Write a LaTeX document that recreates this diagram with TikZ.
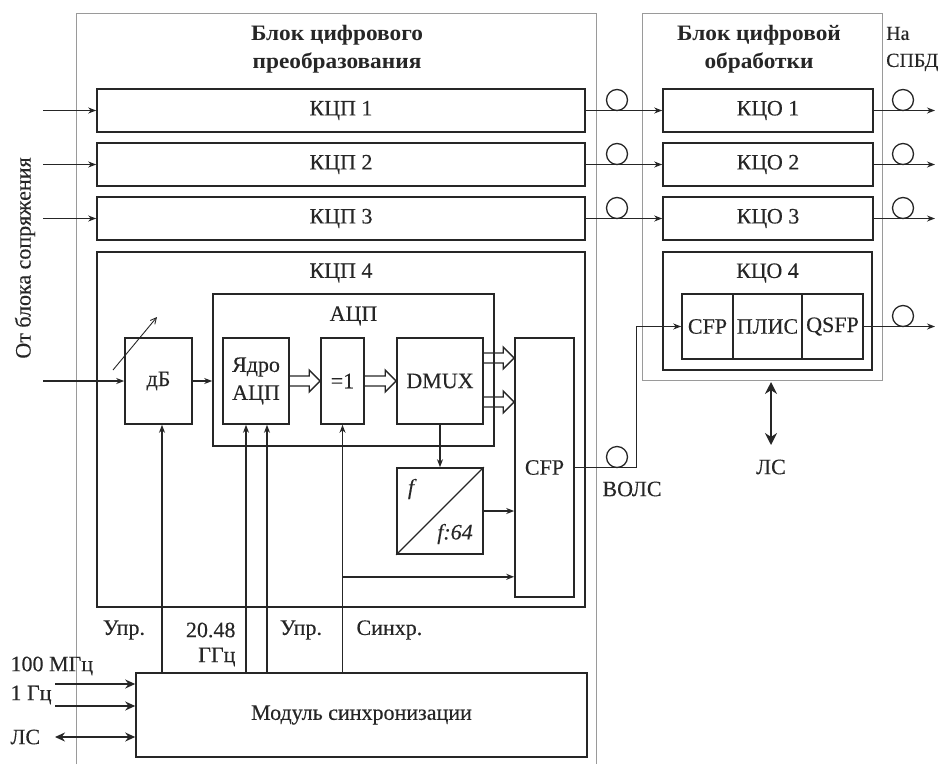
\documentclass[tikz,border=0pt]{standalone}
\usepackage{fontspec}
\setmainfont[FakeBold=0.25]{Liberation Serif}
\newfontfamily\titlefont[FakeStretch=1.06]{Liberation Serif Bold}
\usetikzlibrary{arrows.meta,calc}
\definecolor{ln}{HTML}{262626}
\definecolor{frame}{HTML}{9A9A9A}
\newcommand\harrow[2]{\draw[hol] let \p1=#1, \p2=#2 in (\x1,\y1+5pt) -- (\x2-11pt,\y1+5pt) -- (\x2-11pt,\y1+11pt) -- (\x2,\y1) -- (\x2-11pt,\y1-11pt) -- (\x2-11pt,\y1-5pt) -- (\x1,\y1-5pt);}
\begin{document}
\begin{tikzpicture}[x=1pt,y=-1pt,
  every node/.style={font=\fontsize{22}{28}\selectfont, text=ln},
  box/.style={draw=ln, line width=1.6pt, inner sep=0pt},
  outer/.style={draw=frame, line width=0.8pt},
  title/.style={font=\fontsize{22}{28}\selectfont\titlefont, align=center},
  arr/.style={draw=ln, line width=1.4pt, -{Stealth[length=8pt,width=6pt]}},
  bigarr/.style={draw=ln, line width=1.4pt, -{Stealth[length=10pt,width=9pt]}},
  dbl/.style={draw=ln, line width=1.6pt, {Stealth[length=12pt,width=12pt]}-{Stealth[length=12pt,width=12pt]}},
  dblsmall/.style={draw=ln, line width=1.4pt, {Stealth[length=10pt,width=9pt]}-{Stealth[length=10pt,width=9pt]}},
  hol/.style={draw=ln, line width=1.4pt},
  ring/.style={circle, draw=ln, line width=1.3pt, minimum size=21pt, inner sep=0pt},
  thinarr/.style={draw=ln, line width=0.9pt, -{Straight Barb[length=6pt,width=6pt]}}]
\useasboundingbox (0,0) rectangle (943,764);
% outer blocks
\draw[outer] (76,764) -- (76,13) -- (596,13) -- (596,764);
\draw[outer] (642,13) rectangle (882,380);
\node[title] (t1) at (337,49) {Блок цифрового\\преобразования};
\node[title] (t2) at (759,49) {Блок цифровой\\обработки};
\node[anchor=west, align=left, inner sep=0pt, font=\fontsize{20}{27}\selectfont] (spbd) at (886,49) {На\\СПБД};
\node[rotate=90] (from) at (25,258) {От блока сопряжения};
% KCP 1-3
\node[box, minimum width=488pt, minimum height=43pt] (k1) at (341,110.5) {КЦП 1};
\node[box, minimum width=488pt, minimum height=43pt] (k2) at (341,164.5) {КЦП 2};
\node[box, minimum width=488pt, minimum height=43pt] (k3) at (341,218.5) {КЦП 3};
% KCO 1-3
\node[box, minimum width=210pt, minimum height=43pt] (o1) at (768,110.5) {КЦО 1};
\node[box, minimum width=210pt, minimum height=43pt] (o2) at (768,164.5) {КЦО 2};
\node[box, minimum width=210pt, minimum height=43pt] (o3) at (768,218.5) {КЦО 3};
\coordinate (i1) at (43,110.5);
\coordinate (i2) at (43,164.5);
\coordinate (i3) at (43,218.5);
\draw[arr] (i1) -- (k1.west);
\draw[arr] (i2) -- (k2.west);
\draw[arr] (i3) -- (k3.west);
\node[ring] (c1) at (617,100) {};
\node[ring] (c2) at (617,154) {};
\node[ring] (c3) at (617,208) {};
\draw[arr] (k1.east) -- (o1.west);
\draw[arr] (k2.east) -- (o2.west);
\draw[arr] (k3.east) -- (o3.west);
\node[ring] (r1) at (903,100) {};
\node[ring] (r2) at (903,154) {};
\node[ring] (r3) at (903,208) {};
\coordinate (e1) at (935,110.5);
\coordinate (e2) at (935,164.5);
\coordinate (e3) at (935,218.5);
\draw[arr] (o1.east) -- (e1);
\draw[arr] (o2.east) -- (e2);
\draw[arr] (o3.east) -- (e3);
% KCO 4
\node[box, minimum width=209pt, minimum height=118pt] (o4) at (767.5,311) {};
\node (o4l) at (767.5,273) {КЦО 4};
\node[box, minimum width=51pt, minimum height=65pt] (cfp2) at (707.5,326.5) {CFP};
\node[box, minimum width=69pt, minimum height=65pt] (pl) at (767.5,326.5) {ПЛИС};
\node[box, minimum width=61pt, minimum height=65pt] (qsfp) at (832.5,326.5) {QSFP};
\node[ring] (rq) at (903,316) {};
\coordinate (eq) at (935,326.5);
\draw[arr] (qsfp.east) -- (eq);
\coordinate (ls1) at (771,382);
\coordinate (ls2) at (771,445);
\draw[dbl] (ls1) -- (ls2);
\node (lsl) at (771,467) {ЛС};
% KCP 4
\node[box, minimum width=488pt, minimum height=355pt] (k4) at (341,429.5) {};
\node (k4l) at (341,273) {КЦП 4};
\node[box, minimum width=281pt, minimum height=152pt] (adc) at (353.5,370) {};
\node (adcl) at (353.5,316) {АЦП};
\node[box, minimum width=67pt, minimum height=86pt] (db) at (158.5,381) {дБ};
\node[box, minimum width=66pt, minimum height=86pt, align=center] (core) at (256,381) {Ядро\\АЦП};
\node[box, minimum width=43pt, minimum height=86pt] (xor) at (342.5,381) {=1};
\node[box, minimum width=86pt, minimum height=86pt] (dmux) at (440,381) {DMUX};
\node[box, minimum width=59pt, minimum height=259pt] (cfp) at (544.5,467.5) {CFP};
\node[box, minimum width=86pt, minimum height=86pt] (div) at (440,511) {};
\draw[ln, line width=1.3pt] (div.south west) -- (div.north east);
\node (f1) at (411,489) {\itshape f};
\node (f2) at (455,534) {\itshape f:64};
\coordinate (in4) at (43,381);
\draw[arr] (in4) -- (db.west);
\draw[arr] (db.east) -- (adc.west |- db.east);
\coordinate (va) at (113,370);
\coordinate (vb) at (157,317);
\draw[thinarr] (va) -- (vb);
\harrow{(core.east)}{(xor.west)}
\harrow{(xor.east)}{(dmux.west)}
\coordinate (d1) at ($(dmux.east)+(0,-23)$);
\coordinate (d2) at ($(dmux.east)+(0,21)$);
\harrow{(d1)}{(cfp.west |- d1)}
\harrow{(d2)}{(cfp.west |- d2)}
\draw[arr] (dmux.south) -- (div.north);
\draw[arr] (div.east) -- (cfp.west |- div.east);
% VOLS
\node[ring] (cv) at (617,457) {};
\node (vols) at (632,489) {ВОЛС};
\draw[arr] (cfp.east) -| ($(cfp2.west)+(-45,0)$) -- (cfp2.west);
% sync module
\node[box, minimum width=451pt, minimum height=84pt] (sync) at (361.5,715) {Модуль синхронизации};
\coordinate (dbin) at ($(db.south)+(3.5,0)$);
\coordinate (ca) at ($(core.south)+(-10,0)$);
\coordinate (cb) at ($(core.south)+(11,0)$);
\draw[arr] (sync.north -| dbin) -- (dbin);
\draw[arr] (sync.north -| ca) -- (ca);
\draw[arr] (sync.north -| cb) -- (cb);
\draw[arr] (sync.north -| xor.south) -- (xor.south);
\path (xor.south) ++(0,152) coordinate (br);
\draw[arr] (br) -- (cfp.west |- br);
\node (u1) at (124,630) {Упр.};
\node[anchor=east] (g1) at (239,630) {20.48};
\node[anchor=east] (g2) at (239,657) {ГГц};
\node (u2) at (301,630) {Упр.};
\node[anchor=west] (sy) at (353,630) {Синхр.};
\node[anchor=west] (m100) at (7,666) {100 МГц};
\node[anchor=west] (m1) at (7,695) {1 Гц};
\node[anchor=west] (mls) at (7,737) {ЛС};
\coordinate (a1) at (55,684);
\coordinate (a2) at (55,706);
\coordinate (a3) at (55,737);
\draw[bigarr] (a1) -- (sync.west |- a1);
\draw[bigarr] (a2) -- (sync.west |- a2);
\draw[dblsmall] (a3) -- (sync.west |- a3);
\end{tikzpicture}
\end{document}
